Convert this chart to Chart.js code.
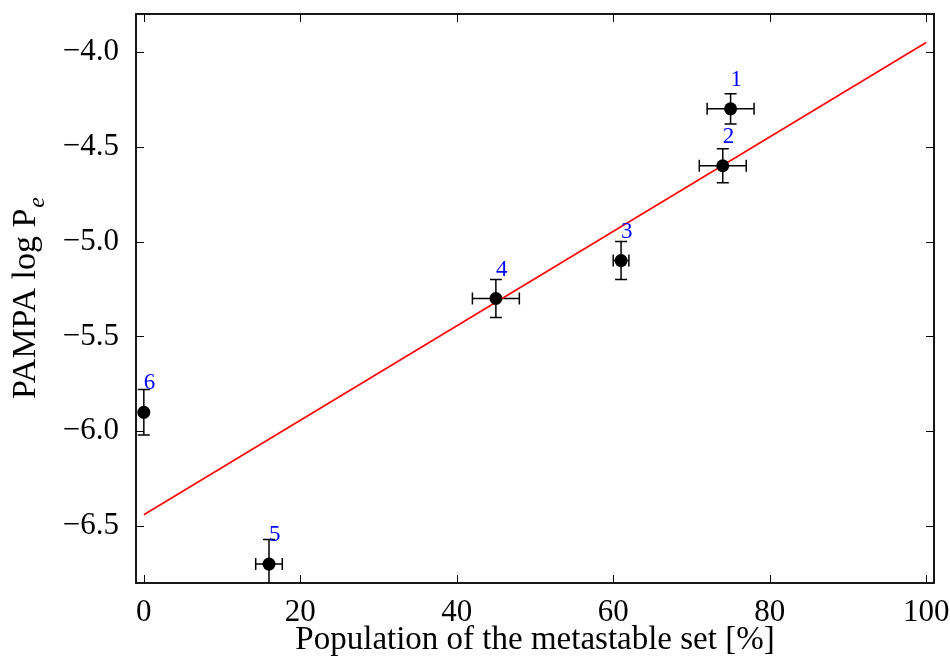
<!DOCTYPE html>
<html><head><meta charset="utf-8">
<script src="https://cdn.jsdelivr.net/npm/chart.js@4.4.1/dist/chart.umd.min.js"></script>
<style>html,body{margin:0;padding:0;background:#fff}</style>
</head><body>
<canvas id="c" width="950" height="661"></canvas>
<script>
const compoundLabels = ['1', '2', '3', '4', '5', '6'];
const population = [75, 74, 61, 45, 16, 0];
const logPe = [-4.3, -4.6, -5.1, -5.3, -6.7, -5.9];
const populationErr = [3, 3, 1, 3, 1.7, 0];
const logPeErr = [0.08, 0.09, 0.1, 0.1, 0.13, 0.12];
const fitX = [0, 100];
const fitY = [-6.44, -3.95];
const xTicks = [0, 20, 40, 60, 80, 100];
const yTicks = [-6.5, -6.0, -5.5, -5.0, -4.5, -4.0];
const xTitle = 'Population of the metastable set [%]';
const yTitleMain = 'PAMPA log P';
const yTitleSub = 'e';

const SERIF = '"Liberation Serif", "DejaVu Serif", serif';

const decor = {
  id: 'decor',
  beforeDatasetsDraw(chart) {
    const {ctx, chartArea: a, scales: {x, y}} = chart;
    ctx.save();
    ctx.beginPath(); ctx.rect(a.left, a.top, a.right - a.left, a.bottom - a.top); ctx.clip();
    ctx.strokeStyle = '#000'; ctx.lineWidth = 1.5;
    const cap = 6;
    population.forEach((v, i) => {
      const px = x.getPixelForValue(v), py = y.getPixelForValue(logPe[i]);
      ctx.beginPath();
      if (populationErr[i] > 0) {
        const x0 = x.getPixelForValue(v - populationErr[i]);
        const x1 = x.getPixelForValue(v + populationErr[i]);
        ctx.moveTo(x0, py); ctx.lineTo(x1, py);
        ctx.moveTo(x0, py - cap); ctx.lineTo(x0, py + cap);
        ctx.moveTo(x1, py - cap); ctx.lineTo(x1, py + cap);
      }
      if (logPeErr[i] > 0) {
        const y0 = y.getPixelForValue(logPe[i] - logPeErr[i]);
        const y1 = y.getPixelForValue(logPe[i] + logPeErr[i]);
        ctx.moveTo(px, y0); ctx.lineTo(px, y1);
        ctx.moveTo(px - cap, y0); ctx.lineTo(px + cap, y0);
        ctx.moveTo(px - cap, y1); ctx.lineTo(px + cap, y1);
      }
      ctx.stroke();
    });
    ctx.restore();
  },
  afterDraw(chart) {
    const {ctx, chartArea: a, scales: {x, y}} = chart;
    ctx.save();
    // frame
    ctx.strokeStyle = '#000'; ctx.lineWidth = 1.8;
    ctx.strokeRect(a.left, a.top, a.right - a.left, a.bottom - a.top);
    // inward ticks
    ctx.lineWidth = 1;
    const tl = 8;
    ctx.beginPath();
    xTicks.forEach(v => {
      const px = Math.round(x.getPixelForValue(v)) + 0.5;
      ctx.moveTo(px, a.bottom); ctx.lineTo(px, a.bottom - tl);
      ctx.moveTo(px, a.top); ctx.lineTo(px, a.top + tl);
    });
    yTicks.forEach(v => {
      const py = Math.round(y.getPixelForValue(v)) + 0.5;
      ctx.moveTo(a.left, py); ctx.lineTo(a.left + tl, py);
      ctx.moveTo(a.right, py); ctx.lineTo(a.right - tl, py);
    });
    ctx.stroke();
    // point labels
    ctx.fillStyle = '#0000ff';
    ctx.font = '23px ' + SERIF;
    ctx.textAlign = 'left'; ctx.textBaseline = 'alphabetic';
    population.forEach((v, i) => {
      const px = x.getPixelForValue(v), py = y.getPixelForValue(logPe[i]);
      ctx.fillText(compoundLabels[i], px, py - 23);
    });
    // y title with subscript
    ctx.fillStyle = '#000';
    ctx.translate(35, (a.top + a.bottom) / 2);
    ctx.rotate(-Math.PI / 2);
    ctx.font = '34px ' + SERIF;
    const w1 = ctx.measureText(yTitleMain).width;
    ctx.font = 'italic 24px ' + SERIF;
    const w2 = ctx.measureText(yTitleSub).width;
    const start = -(w1 + w2) / 2;
    ctx.font = '34px ' + SERIF;
    ctx.fillText(yTitleMain, start, 0);
    ctx.font = 'italic 24px ' + SERIF;
    ctx.fillText(yTitleSub, start + w1 + 1, 9);
    ctx.restore();
  }
};

const minusFmt = v => (v < 0 ? '\u2212' : '') + Math.abs(v).toFixed(1);

new Chart(document.getElementById('c'), {
  type: 'scatter',
  data: {
    datasets: [
      {
        label: 'compounds',
        data: population.map((v, i) => ({x: v, y: logPe[i]})),
        backgroundColor: '#000', borderColor: '#000',
        pointRadius: 6.5, pointHoverRadius: 6.5, borderWidth: 0,
        order: 0
      },
      {
        label: 'fit',
        data: fitX.map((v, i) => ({x: v, y: fitY[i]})),
        showLine: true, borderColor: '#ff0000', borderWidth: 1.6,
        pointRadius: 0, fill: false, order: 1
      }
    ]
  },
  options: {
    responsive: false, animation: false, devicePixelRatio: 1,
    layout: {padding: {left: 0, right: 16, top: 14, bottom: 0}},
    plugins: {legend: {display: false}, tooltip: {enabled: false}},
    scales: {
      x: {
        type: 'linear', min: -1, max: 101,
        afterBuildTicks: s => { s.ticks = xTicks.map(v => ({value: v})); },
        afterFit: s => { s.height = 78; s.paddingLeft = 0; s.paddingRight = 0; },
        grid: {display: false}, border: {display: false},
        ticks: {color: '#000', font: {family: SERIF, size: 31}, padding: 3,
                maxRotation: 0, autoSkip: false, callback: v => String(v)},
        title: {display: true, text: xTitle, color: '#000',
                font: {family: SERIF, size: 33}, padding: {top: 0, bottom: 1}}
      },
      y: {
        type: 'linear', min: -6.8, max: -3.8,
        afterBuildTicks: s => { s.ticks = yTicks.map(v => ({value: v})); },
        afterFit: s => { s.width = 136; s.paddingTop = 0; s.paddingBottom = 0; },
        grid: {display: false}, border: {display: false},
        ticks: {color: '#000', font: {family: SERIF, size: 31}, padding: 9,
                autoSkip: false, callback: minusFmt}
      }
    }
  },
  plugins: [decor]
});
</script>
</body></html>
